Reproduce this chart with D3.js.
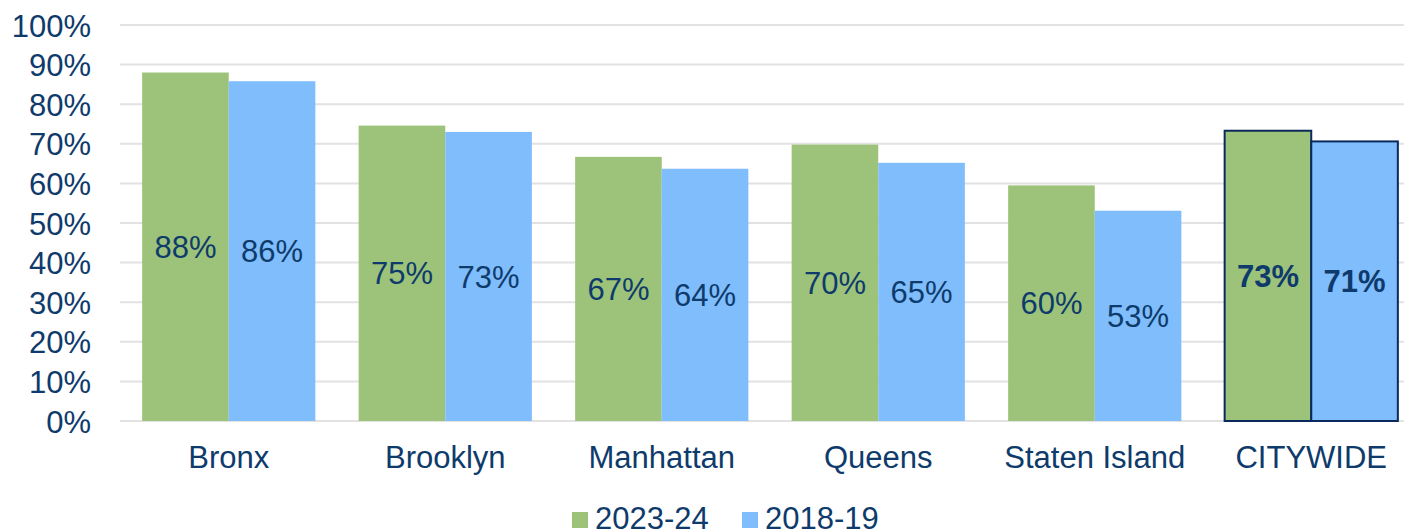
<!DOCTYPE html>
<html>
<head>
<meta charset="utf-8">
<script src="https://cdn.jsdelivr.net/npm/d3@7"></script>
<style>
  body { margin: 0; background: #fff; }
  text { font-family: "Liberation Sans", Arial, sans-serif; fill: #0e3b6b; }
</style>
</head>
<body>
<script>
var boroughs = ["Bronx", "Brooklyn", "Manhattan", "Queens", "Staten Island", "CITYWIDE"];
var years = ["2023-24", "2018-19"];
var values2324 = [88.0, 74.6, 66.7, 69.8, 59.5, 73.3];
var values1819 = [85.8, 73.0, 63.7, 65.2, 53.1, 70.6];
var yTicks = [0, 10, 20, 30, 40, 50, 60, 70, 80, 90, 100];

var colors = {"2023-24": "#9dc37a", "2018-19": "#7fbdfd"};

var width = 1404, height = 532;
var margin = {top: 25, left: 120.5, bottom: 111};
var plotRight = 1419.5;

var svg = d3.select("body").append("svg")
    .attr("width", width)
    .attr("height", height);

var x0 = d3.scaleBand()
    .domain(boroughs)
    .range([margin.left, plotRight])
    .paddingInner(0.2)
    .paddingOuter(0.1);

var x1 = d3.scaleBand()
    .domain(years)
    .range([0, x0.bandwidth()]);

var y = d3.scaleLinear()
    .domain([0, 100])
    .range([height - margin.bottom, margin.top]);

// gridlines
svg.append("g")
    .selectAll("line")
    .data(yTicks)
    .enter().append("line")
        .attr("x1", 120)
        .attr("x2", width)
        .attr("y1", function(d) { return y(d); })
        .attr("y2", function(d) { return y(d); })
        .attr("stroke", "#e2e2e2")
        .attr("stroke-width", 2);

// y axis labels
var yAxis = d3.axisLeft(y)
    .tickValues(yTicks)
    .tickSize(0)
    .tickPadding(0)
    .tickFormat(function(d) { return d + "%"; });

svg.append("g")
    .attr("transform", "translate(91,0)")
    .call(yAxis)
    .call(function(g) { g.select(".domain").remove(); })
    .selectAll("text")
        .attr("font-size", 31)
        .attr("font-family", "Liberation Sans, Arial, sans-serif")
        .attr("fill", "#0e3b6b")
        .attr("dy", "0.36em");

var rows = boroughs.map(function(b, i) {
    return {name: b, vals: [
        {year: "2023-24", v: values2324[i]},
        {year: "2018-19", v: values1819[i]}
    ]};
});

var groups = svg.append("g").selectAll("g")
    .data(rows)
    .enter().append("g")
        .attr("transform", function(d) { return "translate(" + x0(d.name) + ",0)"; });

groups.selectAll("rect")
    .data(function(d) { return d.vals.map(function(v) { return {name: d.name, year: v.year, v: v.v}; }); })
    .enter().append("rect")
        .attr("x", function(d) { return x1(d.year); })
        .attr("y", function(d) { return y(d.v); })
        .attr("width", x1.bandwidth())
        .attr("height", function(d) { return y(0) - y(d.v); })
        .attr("fill", function(d) { return colors[d.year]; })
        .attr("stroke", function(d) { return d.name === "CITYWIDE" ? "#0b2a5c" : "none"; })
        .attr("stroke-width", 2);

groups.selectAll("text")
    .data(function(d) { return d.vals.map(function(v) { return {name: d.name, year: v.year, v: v.v}; }); })
    .enter().append("text")
        .attr("x", function(d) { return x1(d.year) + x1.bandwidth() / 2; })
        .attr("y", function(d) { return (y(d.v) + y(0)) / 2; })
        .attr("dy", "0.36em")
        .attr("text-anchor", "middle")
        .attr("font-size", 31)
        .attr("font-weight", function(d) { return d.name === "CITYWIDE" ? "bold" : "normal"; })
        .text(function(d) { return Math.round(d.v) + "%"; });

// category labels
var xAxis = d3.axisBottom(x0).tickSize(0).tickPadding(0);
svg.append("g")
    .attr("transform", "translate(0," + 468 + ")")
    .call(xAxis)
    .call(function(g) { g.select(".domain").remove(); })
    .selectAll("text")
        .attr("font-size", 31)
        .attr("font-family", "Liberation Sans, Arial, sans-serif")
        .attr("fill", "#0e3b6b")
        .attr("dy", 0)
        .attr("y", 0);

// legend
var legendX = [572, 742];
var legend = svg.append("g").selectAll("g")
    .data(years)
    .enter().append("g")
        .attr("transform", function(d, i) { return "translate(" + legendX[i] + ",0)"; });

legend.append("rect")
    .attr("x", 0)
    .attr("y", 512)
    .attr("width", 16)
    .attr("height", 16)
    .attr("fill", function(d) { return colors[d]; });

legend.append("text")
    .attr("x", 23)
    .attr("y", 529)
    .attr("font-size", 31)
    .text(function(d) { return d; });
</script>
</body>
</html>
